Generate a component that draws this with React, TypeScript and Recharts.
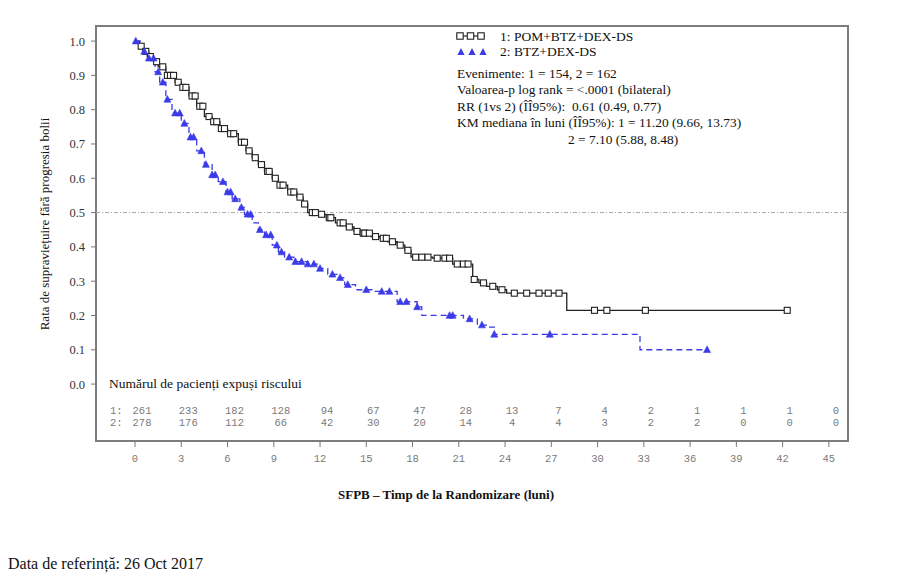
import React from 'react';
import { LineChart, Line, XAxis, YAxis, ReferenceLine, ReferenceArea } from 'recharts';

// Group 1: POM+BTZ+DEX-DS (Kaplan-Meier step points)
const pomTimes = [0, 0.3, 0.5, 0.8, 1.2, 1.5, 2.0, 2.6, 3.0, 3.5, 4.0, 4.5, 5.0, 5.5, 6.0, 6.7, 7.2, 7.6, 8.0, 8.4, 8.9, 9.3, 9.9, 10.5, 10.9, 11.2, 11.9, 12.4, 13.0, 13.7, 14.2, 14.6, 15.3, 15.9, 16.4, 17.0, 17.5, 17.9, 19.3, 20.6, 21.9, 22.3, 22.8, 23.5, 24.1, 28.0];
const pomSurv = [1.0, 0.985, 0.97, 0.955, 0.94, 0.925, 0.9, 0.88, 0.865, 0.84, 0.81, 0.78, 0.765, 0.745, 0.73, 0.705, 0.68, 0.66, 0.64, 0.62, 0.6, 0.58, 0.56, 0.545, 0.525, 0.5, 0.495, 0.485, 0.47, 0.458, 0.445, 0.44, 0.43, 0.425, 0.415, 0.405, 0.39, 0.37, 0.367, 0.35, 0.305, 0.295, 0.285, 0.275, 0.265, 0.215];
const pomCensor = [0.4, 0.7, 1.0, 1.4, 1.8, 2.1, 2.3, 2.5, 2.8, 3.1, 3.3, 3.7, 3.9, 4.2, 4.4, 4.8, 5.1, 5.3, 5.6, 5.8, 6.2, 6.4, 6.9, 7.1, 7.4, 7.8, 8.2, 8.6, 8.7, 9.1, 9.4, 9.6, 10.1, 10.3, 10.7, 11.0, 11.5, 11.7, 12.1, 12.6, 12.7, 13.3, 13.5, 13.9, 14.4, 14.8, 14.9, 15.2, 15.6, 16.1, 16.3, 16.7, 17.2, 17.7, 18.2, 18.6, 19.0, 19.6, 20.1, 20.4, 20.9, 21.3, 21.6, 22.0, 22.6, 23.2, 23.8, 24.6, 25.4, 26.2, 26.8, 27.5, 29.8, 30.6, 33.1, 42.3];

// Group 2: BTZ+DEX-DS
const btzTimes = [0, 0.5, 0.9, 1.3, 1.6, 2.0, 2.4, 3.0, 3.5, 4.0, 4.5, 5.0, 5.4, 5.9, 6.3, 6.8, 7.1, 7.6, 8.0, 8.4, 8.9, 9.3, 9.7, 10.3, 11.2, 11.9, 12.5, 13.1, 13.6, 14.3, 15.5, 17.0, 18.3, 18.6, 21.3, 22.2, 23.0, 23.3, 32.75];
const btzSurv = [1.0, 0.97, 0.95, 0.91, 0.88, 0.83, 0.79, 0.76, 0.72, 0.68, 0.64, 0.61, 0.59, 0.56, 0.54, 0.515, 0.495, 0.47, 0.45, 0.435, 0.405, 0.385, 0.37, 0.357, 0.35, 0.337, 0.32, 0.31, 0.29, 0.275, 0.27, 0.24, 0.225, 0.2, 0.19, 0.172, 0.166, 0.145, 0.1];
const btzCensor = [0.05, 0.6, 0.9, 1.2, 1.5, 1.8, 2.1, 2.6, 2.9, 3.2, 3.6, 3.8, 4.3, 4.6, 5.0, 5.2, 5.7, 6.0, 6.2, 6.5, 6.9, 7.3, 7.5, 8.1, 8.5, 8.8, 9.2, 9.5, 10.0, 10.4, 10.8, 11.2, 11.6, 12.0, 12.8, 13.3, 13.8, 15.0, 16.0, 16.5, 17.2, 17.6, 18.3, 20.4, 20.6, 21.7, 22.5, 23.3, 26.9, 37.1];

const xTicks = [0, 3, 6, 9, 12, 15, 18, 21, 24, 27, 30, 33, 36, 39, 42, 45];
const yTicks = [0, 0.1, 0.2, 0.3, 0.4, 0.5, 0.6, 0.7, 0.8, 0.9, 1.0];

const atRiskPom = [261, 233, 182, 128, 94, 67, 47, 28, 13, 7, 4, 2, 1, 1, 1, 0];
const atRiskBtz = [278, 176, 112, 66, 42, 30, 20, 14, 4, 4, 3, 2, 2, 0, 0, 0];

const legendLabels = ['1: POM+BTZ+DEX-DS', '2: BTZ+DEX-DS'];
const statLines = [
  'Evenimente: 1 = 154, 2 = 162',
  'Valoarea-p log rank = <.0001 (bilateral)',
  'RR (1vs 2) (ÎÎ95%):  0.61 (0.49, 0.77)',
  'KM mediana în luni (ÎÎ95%): 1 = 11.20 (9.66, 13.73)',
];
const statLine2 = '2 = 7.10 (5.88, 8.48)';

const X_MIN = -2.53;
const X_MAX = 46.24;
const Y_MIN = -0.166;
const Y_MAX = 1.044;
const ROW1_Y = -0.0787;
const ROW2_Y = -0.1137;

const BLUE = '#3b3be8';
const BLACK = '#222';
const SERIF = '"Liberation Serif", "Times New Roman", serif';
const MONO = '"Liberation Mono", "DejaVu Sans Mono", monospace';

function buildKM(times: number[], surv: number[], censor: number[]) {
  const pts = times.map((t, i) => ({ t, s: surv[i], c: false }));
  censor.forEach((ct) => {
    let s = surv[0];
    for (let i = 0; i < times.length; i++) if (times[i] <= ct) s = surv[i];
    pts.push({ t: ct, s, c: true });
  });
  pts.sort((a, b) => a.t - b.t || (a.c ? 1 : 0) - (b.c ? 1 : 0));
  return pts;
}

const pomData = buildKM(pomTimes, pomSurv, pomCensor);
const btzData = buildKM(btzTimes, btzSurv, btzCensor);
const riskPomData = xTicks.map((t, i) => ({ t, y: ROW1_Y, n: atRiskPom[i] }));
const riskBtzData = xTicks.map((t, i) => ({ t, y: ROW2_Y, n: atRiskBtz[i] }));

const squareDot = (p: any) => {
  const k = 'sq' + p.index;
  if (!p.payload || !p.payload.c) return <g key={k} />;
  return <rect key={k} x={p.cx - 3} y={p.cy - 3} width={6} height={6} fill="#fff" stroke={BLACK} strokeWidth={1.1} />;
};

const triDot = (p: any) => {
  const k = 'tr' + p.index;
  if (!p.payload || !p.payload.c) return <g key={k} />;
  const { cx, cy } = p;
  return <path key={k} d={`M${cx},${cy - 3.8} L${cx + 3.5},${cy + 2.8} L${cx - 3.5},${cy + 2.8} Z`} fill={BLUE} stroke={BLUE} strokeWidth={0.6} />;
};

const riskDot = (p: any) => {
  const n = p.payload ? p.payload.n : '';
  return (
    <text key={'r' + p.index + '_' + p.cy} x={p.cx + 7} y={p.cy} dominantBaseline="central" textAnchor="middle"
      fontFamily={MONO} fontSize={10.5} fill="#7a7a7a">{n}</text>
  );
};

export default function App() {
  return (
    <div style={{ position: 'absolute', left: 0, top: 0, width: 915, height: 579, background: '#fff' }}>
      <LineChart width={915} height={579} margin={{ top: 26, right: 67, bottom: 108, left: 36 }}>
        <XAxis type="number" dataKey="t" domain={[X_MIN, X_MAX]} allowDataOverflow ticks={xTicks} interval={0}
          axisLine={false} tickLine={{ stroke: '#777' }} tickSize={6} tickMargin={8} height={30}
          tick={{ fontFamily: MONO, fontSize: 10.5, fill: '#7a7a7a' }} />
        <YAxis type="number" domain={[Y_MIN, Y_MAX]} allowDataOverflow ticks={yTicks} interval={0} width={60}
          axisLine={false} tickLine={{ stroke: '#777' }} tickSize={5} tickMargin={6}
          tickFormatter={(v: number) => v.toFixed(1)}
          tick={{ fontFamily: SERIF, fontSize: 12.5, fill: '#333' }} />
        <ReferenceArea x1={X_MIN} x2={X_MAX} y1={Y_MIN} y2={Y_MAX} fill="none" stroke="#7d7d7d" strokeWidth={2} ifOverflow="visible" />
        <ReferenceLine y={0.5} stroke="#a8a8a8" strokeWidth={1} strokeDasharray="4 2 1 2" />
        <Line data={pomData} dataKey="s" type="stepAfter" stroke={BLACK} strokeWidth={1.3} dot={squareDot} activeDot={false} isAnimationActive={false} />
        <Line data={btzData} dataKey="s" type="stepAfter" stroke={BLUE} strokeWidth={1.3} strokeDasharray="6 4" dot={triDot} activeDot={false} isAnimationActive={false} />
        <Line data={riskPomData} dataKey="y" stroke="none" dot={riskDot} activeDot={false} isAnimationActive={false} />
        <Line data={riskBtzData} dataKey="y" stroke="none" dot={riskDot} activeDot={false} isAnimationActive={false} />
      </LineChart>
      <svg width={915} height={579} style={{ position: 'absolute', left: 0, top: 0, pointerEvents: 'none' }}>
        {/* legend */}
        <line x1={456} y1={36} x2={485} y2={36} stroke={BLACK} strokeWidth={1.2} />
        {[460, 470.5, 481].map((x) => (
          <rect key={'l' + x} x={x - 3.2} y={32.8} width={6.4} height={6.4} fill="#fff" stroke={BLACK} strokeWidth={1.1} />
        ))}
        {[461, 472, 483].map((x) => (
          <path key={'b' + x} d={`M${x},${48} L${x + 3.6},${55} L${x - 3.6},${55} Z`} fill={BLUE} />
        ))}
        <text x={500} y={40.5} fontFamily={SERIF} fontSize={13.5} fill="#111">{legendLabels[0]}</text>
        <text x={500} y={55.5} fontFamily={SERIF} fontSize={13.5} fill="#111">{legendLabels[1]}</text>
        {statLines.map((s, i) => (
          <text key={s} x={457} y={77.5 + i * 16.6} fontFamily={SERIF} fontSize={13.4} fill="#111" style={{ whiteSpace: 'pre' }}>{s}</text>
        ))}
        <text x={568} y={144} fontFamily={SERIF} fontSize={13.4} fill="#111">{statLine2}</text>
        {/* at-risk header */}
        <text x={109} y={387.5} fontFamily={SERIF} fontSize={13.5} fill="#111">Numărul de pacienți expuși riscului</text>
        <text x={110} y={411} dominantBaseline="central" fontFamily={MONO} fontSize={10.5} fill="#7a7a7a">1:</text>
        <text x={110} y={423} dominantBaseline="central" fontFamily={MONO} fontSize={10.5} fill="#7a7a7a">2:</text>
        {/* axis titles */}
        <text transform="translate(49,224) rotate(-90)" textAnchor="middle" fontFamily={SERIF} fontSize={13} fill="#111">Rata de supraviețuire fără progresia bolii</text>
        <text x={446} y={499} textAnchor="middle" fontFamily={SERIF} fontSize={13} fontWeight="bold" fill="#111">SFPB – Timp de la Randomizare (luni)</text>
        <text x={8} y={569} fontFamily={SERIF} fontSize={16} fill="#111">Data de referință: 26 Oct 2017</text>
      </svg>
    </div>
  );
}
